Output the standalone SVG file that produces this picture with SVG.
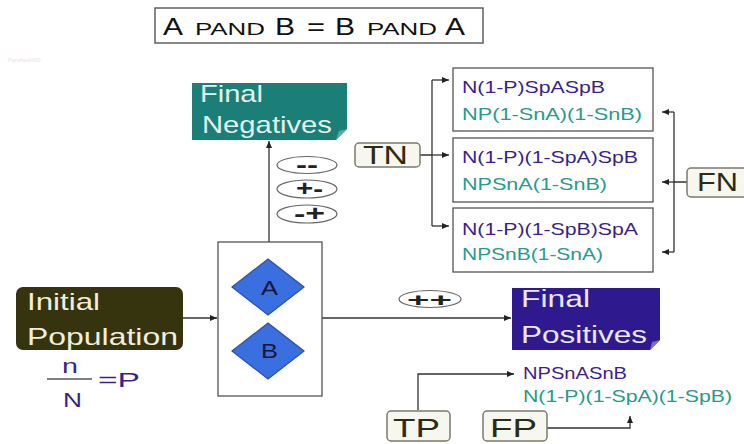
<svg xmlns="http://www.w3.org/2000/svg" width="744" height="444" viewBox="0 0 744 444">
<style>
text{font-family:"Liberation Sans",Arial,sans-serif}
.ln{fill:none;stroke:#333;stroke-width:1.3}
.lbl{fill:#f7f7ef;stroke:#7a7a70;stroke-width:1.5}
.lt{font-size:25px;fill:#2c2c12}
.pur{font-size:16.5px;fill:#3b1f8f}
.tea{font-size:16.5px;fill:#2a9a8a}
.ell{fill:#fff;stroke:#666;stroke-width:1.2}
.et{font-size:22px;font-weight:bold;fill:#222}
.big{font-size:24px;fill:#111}
.sc{font-size:16.5px;fill:#111}
.box{fill:#fff;stroke:#555;stroke-width:1.3}
.dia{fill:#3a6fe0;stroke:#2a4fb0;stroke-width:1.2}
.dt{font-size:21px;fill:#16163a}
</style>
<defs>
<marker id="ah" markerUnits="userSpaceOnUse" markerWidth="8" markerHeight="6" refX="7" refY="3" orient="auto">
<path d="M0,0 L7,3 L0,6 z" fill="#222"/>
</marker>
</defs>
<rect width="744" height="444" fill="#fff"/>

<text x="8" y="62" font-size="6" fill="#ecdcec">ParallelAND</text>

<g id="title">
<rect x="155" y="8" width="328" height="35" fill="#fff" stroke="#555" stroke-width="1.4"/>
<text y="35"><tspan class="big" x="163" textLength="20" lengthAdjust="spacingAndGlyphs">A</tspan> <tspan class="sc" x="195" textLength="70" lengthAdjust="spacingAndGlyphs">PAND</tspan> <tspan class="big" x="275" textLength="20" lengthAdjust="spacingAndGlyphs">B</tspan> <tspan class="big" x="307" textLength="18" lengthAdjust="spacingAndGlyphs">=</tspan> <tspan class="big" x="335" textLength="20" lengthAdjust="spacingAndGlyphs">B</tspan> <tspan class="sc" x="367" textLength="70" lengthAdjust="spacingAndGlyphs">PAND</tspan> <tspan class="big" x="445" textLength="20" lengthAdjust="spacingAndGlyphs">A</tspan></text>
</g>

<g id="connectors">
<path class="ln" d="M183,318 H217" marker-end="url(#ah)"/>
<path class="ln" d="M269,242 V141" marker-end="url(#ah)"/>
<path class="ln" d="M322,318 H511" marker-end="url(#ah)"/>
<path class="ln" d="M420,155 H432 M432,80 V226"/>
<path class="ln" d="M432,80 H449" marker-end="url(#ah)"/>
<path class="ln" d="M432,155 H449" marker-end="url(#ah)"/>
<path class="ln" d="M432,226 H449" marker-end="url(#ah)"/>
<path class="ln" d="M687,182 H674 M674,112 V252"/>
<path class="ln" d="M674,112 H662" marker-end="url(#ah)"/>
<path class="ln" d="M674,182 H662" marker-end="url(#ah)"/>
<path class="ln" d="M674,252 H662" marker-end="url(#ah)"/>
<path class="ln" d="M418,410 V374 H514" marker-end="url(#ah)"/>
<path class="ln" d="M547,428 H630 V416" marker-end="url(#ah)"/>
</g>

<g id="final-negatives">
<path d="M192,83 H347 V129 L336,140 H192 Z" fill="#1b7f78"/>
<path d="M336,140 L347,129 L339,131 Z" fill="#5aa8a2"/>
<text x="200" y="102" font-size="24" fill="#e2f2ef" textLength="63" lengthAdjust="spacingAndGlyphs">Final</text>
<text x="202" y="133" font-size="24" fill="#e2f2ef" textLength="130" lengthAdjust="spacingAndGlyphs">Negatives</text>
</g>

<g id="neg-labels">
<ellipse class="ell" cx="307" cy="165" rx="30" ry="8.5"/>
<text class="et" x="296" y="172" textLength="22" lengthAdjust="spacingAndGlyphs">--</text>
<ellipse class="ell" cx="307" cy="189" rx="30" ry="9"/>
<text class="et" x="296" y="196" textLength="27" lengthAdjust="spacingAndGlyphs">+-</text>
<ellipse class="ell" cx="307" cy="214" rx="30" ry="9"/>
<text class="et" x="294" y="221" textLength="31" lengthAdjust="spacingAndGlyphs">-+</text>
</g>

<g id="initial-population">
<rect x="16" y="287" width="167" height="63" rx="7" fill="#35340f"/>
<text x="27" y="310" font-size="24" fill="#f2eedb" textLength="73" lengthAdjust="spacingAndGlyphs">Initial</text>
<text x="27" y="345" font-size="24" fill="#f2eedb" textLength="151" lengthAdjust="spacingAndGlyphs">Population</text>
</g>

<g id="prevalence">
<text x="62" y="373" font-size="21" fill="#3b1f8f" textLength="16" lengthAdjust="spacingAndGlyphs">n</text>
<line x1="47" y1="379" x2="92" y2="379" stroke="#555" stroke-width="1.5"/>
<text x="63" y="407" font-size="21" fill="#3b1f8f" textLength="19" lengthAdjust="spacingAndGlyphs">N</text>
<text x="98" y="387" font-size="21" fill="#3b1f8f" textLength="42" lengthAdjust="spacingAndGlyphs">=P</text>
</g>

<g id="tests">
<rect class="box" x="218" y="242" width="104" height="154"/>
<path class="dia" d="M268,259 L304,287 L268,315 L232,287 Z"/>
<text class="dt" x="261" y="295" textLength="17" lengthAdjust="spacingAndGlyphs">A</text>
<path class="dia" d="M268,323 L304,351 L268,379 L232,351 Z"/>
<text class="dt" x="261" y="358" textLength="17" lengthAdjust="spacingAndGlyphs">B</text>
</g>

<g id="pos-label">
<ellipse class="ell" cx="430" cy="299" rx="31" ry="8.5"/>
<text class="et" x="407" y="306" font-size="19" textLength="45" lengthAdjust="spacingAndGlyphs" style="font-size:19px">++</text>
</g>

<g id="final-positives">
<path d="M512,288 H660 V340 L650,350 H512 Z" fill="#2e1a8e"/>
<path d="M650,350 L660,340 L652,342 Z" fill="#7a6cc0"/>
<text x="521" y="307" font-size="23" fill="#ebe7fa" textLength="69" lengthAdjust="spacingAndGlyphs">Final</text>
<text x="521" y="343" font-size="23" fill="#ebe7fa" textLength="126" lengthAdjust="spacingAndGlyphs">Positives</text>
</g>

<g id="tn">
<rect class="lbl" x="355" y="143" width="65" height="24" rx="4"/>
<text class="lt" x="363" y="164" textLength="45" lengthAdjust="spacingAndGlyphs">TN</text>
</g>

<g id="fn">
<rect class="lbl" x="687" y="168" width="62" height="29" rx="4"/>
<text class="lt" x="697" y="191" textLength="41" lengthAdjust="spacingAndGlyphs">FN</text>
</g>

<g id="neg-box-1">
<rect class="box" x="453" y="68" width="200" height="63"/>
<text class="pur" x="462" y="93" textLength="143" lengthAdjust="spacingAndGlyphs">N(1-P)SpASpB</text>
<text class="tea" x="462" y="120" textLength="180" lengthAdjust="spacingAndGlyphs">NP(1-SnA)(1-SnB)</text>
</g>
<g id="neg-box-2">
<rect class="box" x="453" y="138" width="200" height="64"/>
<text class="pur" x="462" y="163" textLength="176" lengthAdjust="spacingAndGlyphs">N(1-P)(1-SpA)SpB</text>
<text class="tea" x="462" y="190" textLength="145" lengthAdjust="spacingAndGlyphs">NPSnA(1-SnB)</text>
</g>
<g id="neg-box-3">
<rect class="box" x="453" y="208" width="200" height="64"/>
<text class="pur" x="462" y="235" textLength="176" lengthAdjust="spacingAndGlyphs">N(1-P)(1-SpB)SpA</text>
<text class="tea" x="462" y="260" textLength="141" lengthAdjust="spacingAndGlyphs">NPSnB(1-SnA)</text>
</g>

<g id="pos-formulas">
<text class="pur" x="523" y="379" textLength="104" lengthAdjust="spacingAndGlyphs">NPSnASnB</text>
<text class="tea" x="523" y="402" textLength="209" lengthAdjust="spacingAndGlyphs">N(1-P)(1-SpA)(1-SpB)</text>
</g>

<g id="tp">
<rect class="lbl" x="387" y="411" width="63" height="30" rx="4"/>
<text class="lt" x="393" y="437" textLength="47" lengthAdjust="spacingAndGlyphs">TP</text>
</g>
<g id="fp">
<rect class="lbl" x="483" y="411" width="64" height="30" rx="4"/>
<text class="lt" x="490" y="437" textLength="47" lengthAdjust="spacingAndGlyphs">FP</text>
</g>
</svg>
